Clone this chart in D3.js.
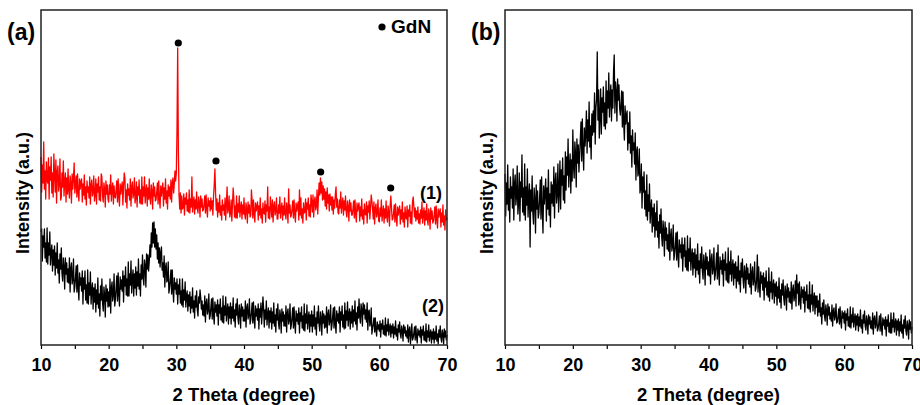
<!DOCTYPE html>
<html>
<head>
<meta charset="utf-8">
<script src="https://cdn.jsdelivr.net/npm/d3@7/dist/d3.min.js"></script>
<style>
  body { margin: 0; background: #fff; }
  svg text { font-family: "Liberation Sans", Arial, sans-serif; font-weight: bold; fill: #000; }
</style>
</head>
<body>
<div id="chart"></div>
<script>
'use strict';

// scan grid: 10..70 deg, 0.1 deg step
const THETA_START = 10;
const THETA_STEP = 0.1;

const xTicks = [10, 15, 20, 25, 30, 35, 40, 45, 50, 55, 60, 65, 70];
const xTickLabels = ['10', '', '20', '', '30', '', '40', '', '50', '', '60', '', '70'];

// GdN reflections marked with dots on curve (1): [2theta, intensity]
const gdnPeaks = [[30.29, 302], [35.86, 184], [51.33, 173], [61.68, 157]];

// (a) curve (1), red
const curve1 = [
  188,153,180,162,203,156,174,146,183,165,
  162,187,146,178,165,188,152,172,148,191,
  171,153,185,142,173,179,154,161,186,145,
  148,172,158,184,149,163,172,143,167,151,
  176,155,147,169,162,142,171,156,167,182,
  152,160,169,148,171,153,144,166,156,163,
  166,143,161,150,170,146,158,140,164,153,
  158,147,168,141,160,165,149,153,169,144,
  150,166,141,161,153,168,145,158,144,171,
  168,149,143,162,156,138,164,151,160,146,
  143,160,151,170,144,156,162,141,159,148,
  147,155,164,143,166,148,139,161,151,158,
  163,140,158,172,167,143,155,137,161,150,
  156,145,166,139,158,163,147,151,167,142,
  147,163,138,158,150,165,142,155,141,168,
  141,158,149,168,142,154,160,139,157,146,
  166,147,141,160,154,136,162,149,158,144,
  145,153,162,141,164,146,137,159,149,156,
  162,139,157,146,166,142,154,136,160,149,
  158,146,165,143,162,167,152,161,174,164,
  172,215,297,195,150,136,152,132,149,136,
  138,151,130,147,141,152,134,145,133,155,
  132,146,138,168,133,142,148,131,145,136,
  153,137,132,148,142,128,149,138,146,134,
  135,141,149,132,150,136,128,147,139,144,
  134,147,136,144,130,149,160,176,152,135,
  146,128,142,133,150,130,139,125,145,135,
  140,130,147,125,141,158,132,136,149,128,
  132,145,124,141,157,146,128,139,127,149,
  127,141,133,149,128,137,143,126,140,131,
  147,131,126,142,136,122,143,132,140,128,
  130,155,144,127,145,131,123,142,134,139,
  143,125,139,130,147,127,136,122,142,132,
  131,144,123,140,134,158,127,138,126,148,
  138,128,145,123,139,143,130,134,147,126,
  126,140,132,148,127,136,142,125,139,130,
  147,131,126,142,136,122,156,132,140,128,
  130,136,144,127,145,131,123,142,134,139,
  143,125,155,130,147,127,136,122,142,132,
  133,146,125,142,136,147,129,140,128,150,
  143,133,150,128,144,148,135,139,155,131,
  148,162,150,167,152,163,145,159,146,156,
  139,153,136,157,142,150,134,151,140,148,
  135,148,131,145,137,151,158,138,146,132,
  131,145,137,153,132,141,147,130,144,135,
  149,133,128,144,138,124,145,134,142,130,
  130,136,144,127,145,131,123,142,134,139,
  142,124,138,129,146,126,135,121,141,131,
  130,143,122,139,133,144,126,137,150,144,
  136,126,143,121,137,141,128,132,145,124,
  123,137,129,145,124,133,139,122,136,127,
  144,128,123,139,133,119,140,149,137,125,
  126,132,140,123,141,127,119,138,130,135,
  139,121,135,126,143,123,132,118,138,128,
  126,139,118,135,129,140,122,133,121,143,
  148,139,128,137,124,134,126,138,122,131,
  121,135,127,143,122,131,137,120,134,125,
  141,125,120,136,130,116,137,126,134,122,
  124,130,138,121,139,125,117,136,128,133,
  136,118,132,123,140,120,129,115,135,125,
  127
];

// (a) curve (2), black
const curve2 = [
  113,116,84,109,98,116,87,102,83,117,
  81,102,90,113,80,93,100,74,95,80,
  99,70,92,77,102,72,85,62,91,76,
  97,72,64,87,78,56,87,71,82,63,
  76,62,87,53,76,82,61,66,86,53,
  58,68,79,53,80,57,45,72,60,67,
  54,74,41,67,56,74,45,60,42,75,
  41,62,50,73,41,55,62,36,57,43,
  61,33,55,41,67,37,51,29,59,45,
  66,42,34,58,50,28,60,44,56,38,
  53,39,66,32,57,63,44,50,71,39,
  46,57,69,44,72,51,39,68,56,65,
  54,74,43,69,59,78,50,66,49,83,
  49,71,60,84,52,66,75,49,71,57,
  78,50,73,59,86,56,71,49,80,66,
  90,67,60,85,79,58,91,76,90,74,
  84,100,88,112,98,122,102,123,98,116,
  96,110,86,102,82,97,78,92,98,75,
  82,68,89,58,77,82,63,66,83,52,
  57,65,75,51,75,55,43,67,56,62,
  51,66,41,60,51,66,42,54,40,66,
  38,55,45,63,38,49,54,34,50,39,
  53,32,48,37,57,33,44,27,49,38,
  54,35,29,48,42,55,48,36,44,30,
  40,29,49,23,42,46,31,35,51,26,
  29,37,46,26,47,30,21,43,33,40,
  29,45,20,40,32,46,25,37,23,49,
  22,39,30,48,24,35,41,21,38,27,
  42,21,38,27,47,24,35,18,41,30,
  46,27,21,40,34,17,41,29,38,24,
  35,24,44,18,37,41,26,30,46,21,
  25,33,42,22,43,26,17,39,29,36,
  25,41,16,36,28,42,21,33,48,36,
  18,35,26,44,20,31,37,17,34,23,
  37,16,33,22,42,19,30,13,36,25,
  41,22,16,35,29,12,36,24,33,19,
  30,19,39,13,32,36,21,25,41,16,
  20,28,37,17,38,21,12,34,24,31,
  21,37,12,32,24,38,17,29,15,41,
  14,31,22,40,16,27,33,13,30,19,
  34,13,30,19,39,16,27,10,33,22,
  39,20,14,33,27,10,34,22,31,17,
  29,18,38,12,31,35,20,24,40,15,
  20,28,37,17,38,21,12,34,24,31,
  22,38,13,33,25,39,18,30,16,42,
  17,34,25,43,19,30,36,16,33,22,
  39,18,35,24,44,21,32,15,38,27,
  46,28,22,41,35,19,42,31,40,26,
  35,23,42,15,33,35,19,22,37,11,
  17,21,27,13,27,15,9,23,16,20,
  14,24,8,21,16,25,11,19,10,27,
  9,20,14,26,10,17,21,8,19,12,
  21,7,18,11,24,9,16,5,20,13,
  23,11,7,19,15,4,20,12,18,9,
  14,7,20,3,15,18,1,11,21,5,
  7,12,18,5,19,8,2,16,10,14,
  8,18,2,15,10,19,5,13,4,21,
  3,14,8,20,4,11,15,2,13,6,
  16,2,13,6,19,4,11,1,15,8,
  19,7,3,15,11,1,16,8,14,5,
  10
];

// (b) single pattern, black
const curveB = [
  171,129,162,141,180,135,156,123,168,147,
  158,137,176,125,161,170,140,149,179,131,
  142,172,124,163,148,190,133,157,130,181,
  125,158,140,176,128,149,161,98,155,134,
  169,133,121,157,145,112,160,136,154,127,
  132,147,165,126,168,135,112,159,141,153,
  166,124,157,136,175,130,151,118,163,142,
  160,139,178,127,163,172,142,151,181,133,
  154,184,136,175,160,187,145,169,142,193,
  155,188,170,206,158,179,191,152,185,164,
  215,179,167,203,191,158,206,182,200,173,
  190,205,223,184,226,193,175,217,199,211,
  234,192,225,204,243,198,219,186,231,210,
  234,213,252,201,237,246,293,225,255,207,
  228,256,211,247,233,258,219,242,216,264,
  222,254,237,272,228,248,260,224,255,237,
  273,290,232,263,253,224,266,245,260,237,
  230,241,254,218,253,222,205,239,221,230,
  234,195,222,202,233,192,209,178,215,195,
  202,181,212,165,193,198,169,173,196,152,
  157,181,137,168,153,173,136,154,129,170,
  125,150,134,161,122,137,145,113,137,119,
  141,108,132,115,144,108,123,97,130,112,
  136,108,99,124,114,89,123,105,117,96,
  110,94,122,85,109,116,94,99,120,85,
  91,100,112,85,113,90,78,105,93,100,
  87,107,74,100,89,107,78,94,75,109,
  74,96,84,107,75,89,96,70,92,77,
  96,68,90,75,101,71,84,62,91,77,
  98,74,66,90,82,60,92,76,88,70,
  83,69,95,61,85,91,71,77,97,65,
  70,80,92,66,100,72,60,88,76,84,
  71,91,59,85,75,93,65,81,63,97,
  62,83,71,94,64,77,85,60,81,67,
  83,57,78,64,89,61,74,53,82,68,
  86,65,57,79,72,52,81,66,77,61,
  71,58,81,51,72,78,60,65,83,54,
  57,66,90,53,78,59,48,73,62,69,
  55,72,45,67,58,74,50,63,48,77,
  44,63,53,73,46,58,65,42,61,49,
  63,40,58,47,67,43,55,37,61,50,
  65,46,40,59,53,35,61,48,57,43,
  53,42,63,36,55,60,44,48,64,39,
  70,52,61,40,63,45,36,58,48,55,
  42,58,33,53,45,60,37,50,36,63,
  33,50,41,60,34,46,52,31,49,38,
  49,29,44,33,51,29,37,21,42,31,
  45,29,24,40,34,20,41,30,38,26,
  32,24,40,19,34,37,25,29,41,22,
  23,29,36,21,38,24,17,34,27,32,
  22,34,15,31,25,36,19,28,18,38,
  17,30,23,37,18,26,31,15,29,20,
  31,14,28,19,35,17,25,12,30,22,
  34,19,15,29,24,11,30,21,28,17,
  24,16,32,11,26,29,17,21,33,14,
  16,22,29,14,31,17,10,27,20,25,
  16,28,9,25,19,30,13,22,12,32,
  12,25,18,32,13,21,26,10,24,15,
  26,9,23,14,30,12,20,7,25,17,
  29,14,10,24,19,6,25,16,23,12,
  18
];

const W = 920, H = 405;

const svg = d3.select('#chart').append('svg')
  .attr('width', W)
  .attr('height', H);

const toPoints = function(values) {
  return values.map((v, i) => [THETA_START + i * THETA_STEP, v]);
};

const drawPanel = function(opts) {
  const x = d3.scaleLinear().domain([10, 70]).range([opts.left, opts.right]);
  const y = d3.scaleLinear().domain([0, 335]).range([345, 10]);

  const line = d3.line()
    .x(d => x(d[0]))
    .y(d => y(d[1]));

  opts.curves.forEach(c => {
    svg.append('path')
      .datum(toPoints(c.values))
      .attr('fill', 'none')
      .attr('stroke', c.color)
      .attr('stroke-width', 1.3)
      .attr('stroke-linejoin', 'round')
      .attr('d', line);
  });

  // x axis, ticks outward
  const axis = svg.append('g')
    .attr('transform', 'translate(0,345)')
    .call(d3.axisBottom(x)
      .tickValues(xTicks)
      .tickSize(4)
      .tickPadding(9)
      .tickFormat((d, i) => xTickLabels[i]));
  axis.select('.domain').remove();
  axis.selectAll('line').attr('stroke', '#000').attr('stroke-width', 1.2);
  axis.selectAll('text')
    .attr('font-size', 18)
    .style('font-family', '"Liberation Sans", Arial, sans-serif')
    .style('font-weight', 'bold');

  // frame
  svg.append('rect')
    .attr('x', opts.left)
    .attr('y', 10)
    .attr('width', opts.right - opts.left)
    .attr('height', 335)
    .attr('fill', 'none')
    .attr('stroke', '#222')
    .attr('stroke-width', 1.5);

  svg.append('text')
    .attr('x', (opts.left + opts.right) / 2)
    .attr('y', 401)
    .attr('text-anchor', 'middle')
    .attr('font-size', 18.5)
    .text('2 Theta (degree)');

  svg.append('text')
    .attr('transform', 'translate(' + opts.yTitleX + ',193) rotate(-90)')
    .attr('text-anchor', 'middle')
    .attr('font-size', 18)
    .text('Intensity (a.u.)');

  svg.append('text')
    .attr('x', opts.left - 34)
    .attr('y', 40)
    .attr('font-size', 23)
    .text(opts.label);

  return { x: x, y: y };
};

// panel (a)
const a = drawPanel({
  left: 41, right: 447, yTitleX: 29, label: '(a)',
  curves: [
    { values: curve1, color: '#ff0000' },
    { values: curve2, color: '#000000' }
  ]
});

svg.selectAll('circle.gdn')
  .data(gdnPeaks)
  .enter().append('circle')
  .attr('class', 'gdn')
  .attr('cx', d => a.x(d[0]))
  .attr('cy', d => a.y(d[1]))
  .attr('r', 3.6)
  .attr('fill', '#000');

// legend
svg.append('circle').attr('cx', 382).attr('cy', 27).attr('r', 3.6).attr('fill', '#000');
svg.append('text').attr('x', 391).attr('y', 33).attr('font-size', 19).text('GdN');

svg.append('text').attr('x', a.x(66.0)).attr('y', a.y(146)).attr('font-size', 18).text('(1)');
svg.append('text').attr('x', a.x(66.3)).attr('y', a.y(33)).attr('font-size', 18).text('(2)');

// panel (b)
drawPanel({
  left: 505, right: 912, yTitleX: 493, label: '(b)',
  curves: [
    { values: curveB, color: '#000000' }
  ]
});
</script>
</body>
</html>
